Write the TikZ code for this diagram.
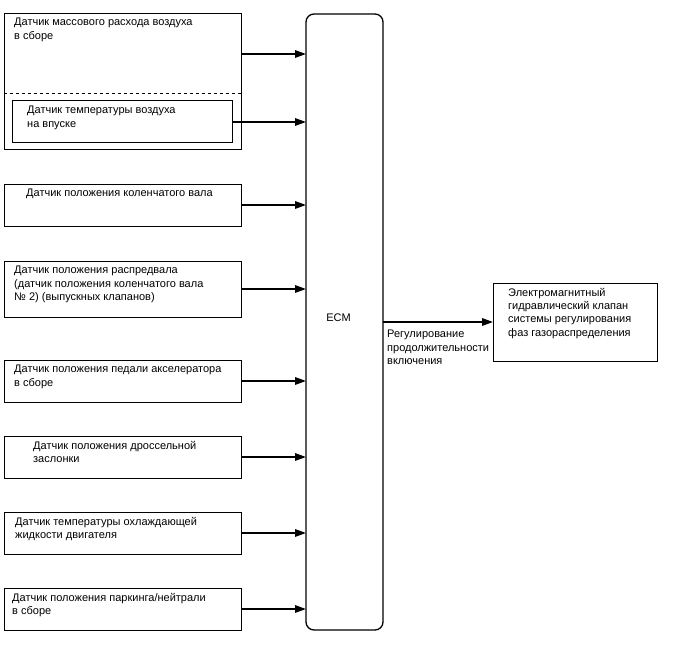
\documentclass[tikz,border=0pt]{standalone}
\usepackage{fontspec}
\setmainfont{Liberation Sans}
\usetikzlibrary{positioning,calc,arrows.meta}

\begin{document}
\begin{tikzpicture}[
    x=1pt, y=-1pt,
    box/.style={rectangle, draw, line width=1pt, inner sep=0pt, outer sep=0pt, anchor=north west},
    txt/.style={inner sep=0pt, align=left, anchor=north west, font=\fontsize{11}{13.3}\selectfont},
    arr/.style={-{Triangle[length=11pt,width=7.5pt]}, line width=1.6pt}
]
    \useasboundingbox (0,0) rectangle (688,658);

    % Sensors
    \node[box, minimum width=237pt, minimum height=136pt] (maf) at (4,14) {};
    \node[box, minimum width=220pt, minimum height=42pt] (iat) at (12,101) {};
    \node[box, minimum width=237pt, minimum height=42pt] (crank) at (4,184) {};
    \node[box, minimum width=237pt, minimum height=56pt] (cam) at (4,261) {};
    \node[box, minimum width=237pt, minimum height=42pt] (pedal) at (4,360) {};
    \node[box, minimum width=237pt, minimum height=42pt] (throttle) at (4,436) {};
    \node[box, minimum width=237pt, minimum height=42pt] (coolant) at (4,512) {};
    \node[box, minimum width=237pt, minimum height=42pt] (park) at (4,588) {};
    \draw[dashed, line width=1pt] (maf.west |- 0,94) -- (maf.east |- 0,94);

    % ECM and valve
    \node[box, rounded corners=8pt, line width=1.3pt, minimum width=77pt, minimum height=616pt] (ecm) at (306,14) {};
    \node[box, minimum width=164pt, minimum height=78pt] (vvt) at (493,283) {};

    % Texts
    \node[txt, below right=4pt and 10pt of maf.north west] {Датчик массового расхода воздуха\\в сборе};
    \node[txt, below right=5pt and 15pt of iat.north west] {Датчик температуры воздуха\\на впуске};
    \node[txt, below right=5pt and 22pt of crank.north west] {Датчик положения коленчатого вала};
    \node[txt, below right=5pt and 10pt of cam.north west] {Датчик положения распредвала\\(датчик положения коленчатого вала\\№ 2) (выпускных клапанов)};
    \node[txt, below right=5pt and 10pt of pedal.north west] {Датчик положения педали акселератора\\в сборе};
    \node[txt, below right=5pt and 29pt of throttle.north west] {Датчик положения дроссельной\\заслонки};
    \node[txt, below right=5pt and 11pt of coolant.north west] {Датчик температуры охлаждающей\\жидкости двигателя};
    \node[txt, below right=5pt and 8pt of park.north west] {Датчик положения паркинга/нейтрали\\в сборе};
    \node[txt, anchor=center] (ecmlabel) at ($(ecm.center)+(-6,-4)$) {ECM};
    \node[txt, below right=5pt and 15pt of vvt.north west] {Электромагнитный\\гидравлический клапан\\системы регулирования\\фаз газораспределения};
    \node[txt, below right=8pt and 4pt of ecm.east] (duty) {Регулирование\\продолжительности\\включения};

    % Edges
    \draw[arr] (maf.north east) ++(0,40) coordinate (m1) -- (m1 -| ecm.west);
    \draw[arr] (iat.east) -- (iat.east -| ecm.west);
    \foreach \s in {crank, cam, pedal, throttle, coolant, park}
        \draw[arr] (\s.east) -- (\s.east -| ecm.west);
    \draw[arr] (ecm.east) -- (vvt.west);
\end{tikzpicture}
\end{document}
